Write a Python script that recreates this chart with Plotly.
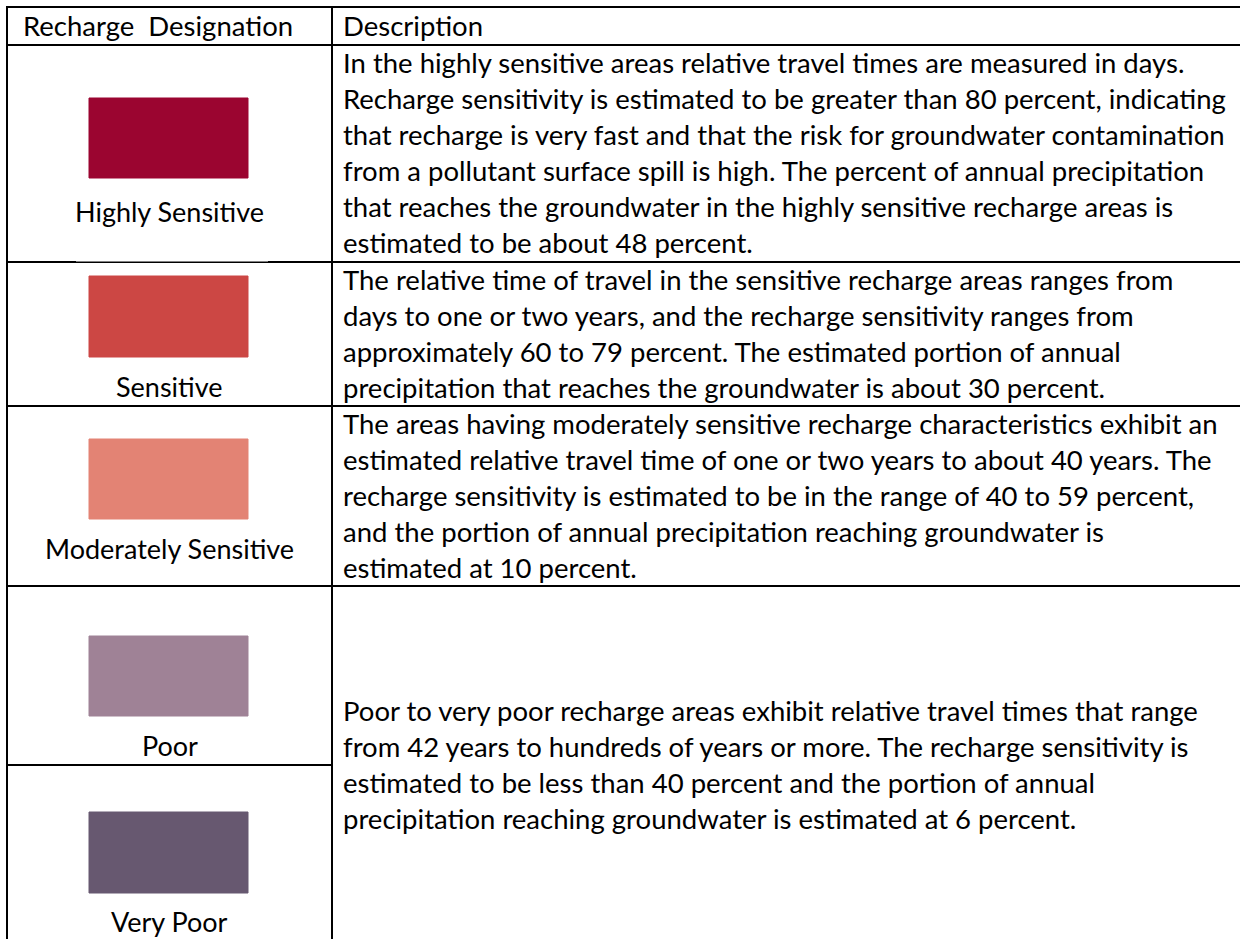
import plotly.graph_objects as go

# ---- data ----
designations = ["Highly Sensitive", "Sensitive", "Moderately Sensitive", "Poor", "Very Poor"]
swatch_colors = ["#9B0530", "#CC4744", "#E38374", "#9F8296", "#675870"]
header_labels = ["Recharge\u00a0 Designation", "Description"]
desc_highly = [
    "In the highly sensitive areas relative travel times are measured in days.",
    "Recharge sensitivity is estimated to be greater than 80 percent, indicating",
    "that recharge is very fast and that the risk for groundwater contamination",
    "from a pollutant surface spill is high. The percent of annual precipitation",
    "that reaches the groundwater in the highly sensitive recharge areas is",
    "estimated to be about 48 percent.",
]
desc_sensitive = [
    "The relative time of travel in the sensitive recharge areas ranges from",
    "days to one or two years, and the recharge sensitivity ranges from",
    "approximately 60 to 79 percent. The estimated portion of annual",
    "precipitation that reaches the groundwater is about 30 percent.",
]
desc_moderate = [
    "The areas having moderately sensitive recharge characteristics exhibit an",
    "estimated relative travel time of one or two years to about 40 years. The",
    "recharge sensitivity is estimated to be in the range of 40 to 59 percent,",
    "and the portion of annual precipitation reaching groundwater is",
    "estimated at 10 percent.",
]
desc_poor = [
    "Poor to very poor recharge areas exhibit relative travel times that range",
    "from 42 years to hundreds of years or more. The recharge sensitivity is",
    "estimated to be less than 40 percent and the portion of annual",
    "precipitation reaching groundwater is estimated at 6 percent.",
]

# ---- layout (pixel geometry) ----
W, H = 1240, 939
FONT = "Lato, 'Open Sans', sans-serif"
FS = 27.5
FS_LABEL = 27
LINE = 36
X_LEFT, X_DIV, X_RIGHT = 7, 332, 1245
TOP = 7
row_bounds = [45, 262, 406, 586, 765, 950]
swatch_x = (89, 248)
swatch_y = [(98, 178), (276, 357), (439, 519), (636, 716), (812, 893)]
label_y = [211, 386, 548, 745, 921]
desc_first_y = [62, 279, 423, 710]
TEXT_X = 341

fig = go.Figure()
shapes = []
ann = []
lw = 2
blk = "#000000"

# outer / grid lines
shapes.append(dict(type="line", x0=X_LEFT - 1, x1=X_RIGHT, y0=TOP, y1=TOP, line=dict(color=blk, width=lw)))
shapes.append(dict(type="line", x0=X_LEFT, x1=X_LEFT, y0=TOP, y1=H + 10, line=dict(color=blk, width=lw)))
shapes.append(dict(type="line", x0=X_DIV, x1=X_DIV, y0=TOP, y1=H + 10, line=dict(color=blk, width=lw)))
for i, yb in enumerate(row_bounds[:-1]):
    if i == 4:
        # line between Poor and Very Poor only spans left column
        shapes.append(dict(type="line", x0=X_LEFT, x1=X_DIV, y0=yb, y1=yb, line=dict(color=blk, width=lw)))
    else:
        shapes.append(dict(type="line", x0=X_LEFT, x1=X_RIGHT, y0=yb, y1=yb, line=dict(color=blk, width=lw)))
# slight white overlap from the swatch image on the line above "Sensitive"
shapes.append(dict(type="rect", x0=76, x1=268, y0=260.6, y1=261.6, fillcolor="white", line=dict(width=0)))

# swatches
for (y0, y1), c in zip(swatch_y, swatch_colors):
    shapes.append(dict(type="rect", x0=swatch_x[0], x1=swatch_x[1], y0=y0, y1=y1,
                       fillcolor=c, line=dict(color=c, width=1), opacity=1))

# header text
ann.append(dict(x=21, y=25, text=header_labels[0], xanchor="left", yanchor="middle", size=FS))
ann.append(dict(x=TEXT_X, y=25, text=header_labels[1], xanchor="left", yanchor="middle", size=FS))

# labels
cx = (X_LEFT + X_DIV) / 2
for name, ly in zip(designations, label_y):
    ann.append(dict(x=cx, y=ly, text=name, xanchor="center", yanchor="middle", size=FS_LABEL))

# descriptions
for lines, y0 in zip([desc_highly, desc_sensitive, desc_moderate, desc_poor], desc_first_y):
    for k, t in enumerate(lines):
        ann.append(dict(x=TEXT_X, y=y0 + k * LINE, text=t, xanchor="left", yanchor="middle", size=FS))

for a in ann:
    s = a.pop("size")
    a.update(xref="x", yref="y", showarrow=False, font=dict(family=FONT, size=s, color="#000000"))

fig.update_layout(
    width=W, height=H,
    margin=dict(l=0, r=0, t=0, b=0),
    paper_bgcolor="white", plot_bgcolor="white",
    xaxis=dict(range=[0, W], visible=False, fixedrange=True),
    yaxis=dict(range=[H, 0], visible=False, fixedrange=True),
    shapes=shapes, annotations=ann, showlegend=False,
)
fig.write_html(
    "out.html",
    config={"displayModeBar": False},
    post_script=(
        "document.body.style.margin='0';document.body.style.overflow='hidden';"
        "var st=document.createElement('style');"
        "st.textContent='text{font-variant-ligatures:none;}';"
        "document.head.appendChild(st);"
    ),
)
